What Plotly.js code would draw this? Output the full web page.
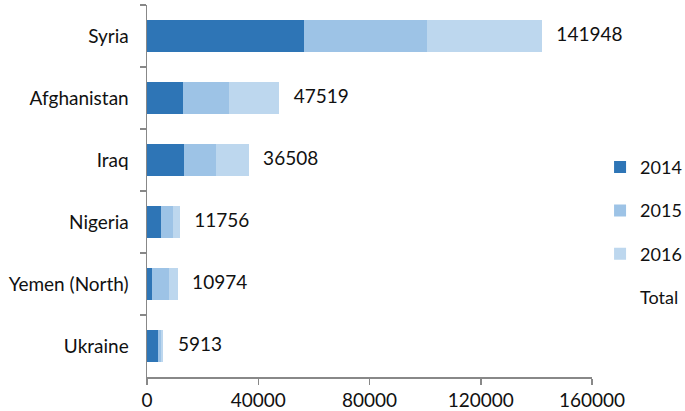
<!DOCTYPE html>
<html><head><meta charset="utf-8">
<script src="https://cdn.plot.ly/plotly-3.0.1.min.js"></script>
<style>html,body{margin:0;padding:0;background:#fff}#chart{width:685px;height:411px}</style>
</head><body><div id="chart"></div>
<script>
const countries = ["Syria", "Afghanistan", "Iraq", "Nigeria", "Yemen (North)", "Ukraine"];
const v2014 = [56300, 12800, 13400, 5000, 1900, 4100];
const v2015 = [44500, 16800, 11400, 4500, 6100, 1000];
const v2016 = [41148, 17919, 11708, 2256, 2974, 813];
const totals = [141948, 47519, 36508, 11756, 10974, 5913];
const xTicks = [0, 40000, 80000, 120000, 160000];

const font = {family: "Lato, 'Open Sans', sans-serif", size: 19, color: "#111"};
const legendFont = {family: "Lato, 'Open Sans', sans-serif", size: 18, color: "#111"};
const mk = (name, vals, color, g) => ({
  type: "bar", orientation: "h", name: name, x: vals, y: countries,
  marker: {color: color, line: {width: 0}}, legendgroup: g, hoverinfo: "x"
});
const data = [
  mk("2014", v2014, "#2E75B6", "a"),
  mk("2015", v2015, "#9DC3E6", "b"),
  mk("2016", v2016, "#BDD7EE", "c"),
  {type: "scatter", mode: "text", x: totals, y: countries, text: totals.map(t => "   " + t),
   textposition: "middle right", textfont: font, showlegend: false, cliponaxis: false, hoverinfo: "skip"},
  {type: "bar", orientation: "h", name: "Total", x: [null], y: [null],
   marker: {color: "rgba(0,0,0,0)"}, legendgroup: "d", showlegend: true}
];
const layout = {
  width: 685, height: 411,
  margin: {l: 147, r: 93, t: 5, b: 34, pad: 0, autoexpand: false},
  barmode: "stack", bargap: 0.48,
  paper_bgcolor: "#fff", plot_bgcolor: "#fff",
  font: font,
  showlegend: true,
  legend: {xref: "container", yref: "container", x: 0.876, xanchor: "left", y: 0.638, yanchor: "top",
           traceorder: "grouped", tracegroupgap: 17, font: legendFont, bgcolor: "rgba(0,0,0,0)", itemwidth: 30},
  xaxis: {range: [0, 160000], tickvals: xTicks, ticktext: xTicks.map(String),
          showgrid: false, zeroline: false, showline: true, linecolor: "#888", linewidth: 1.5,
          ticks: "outside", ticklen: 6, tickcolor: "#888", tickwidth: 1.5, tickfont: font, fixedrange: true},
  yaxis: {autorange: "reversed", type: "category", showgrid: false, zeroline: false,
          showline: true, linecolor: "#888", linewidth: 1.5, ticks: "outside", tickson: "boundaries",
          ticklen: 6, tickcolor: "#888", tickwidth: 1.5, tickfont: font, ticklabelstandoff: 13}
};
Plotly.newPlot("chart", data, layout, {displayModeBar: false, staticPlot: true});
</script></body></html>
